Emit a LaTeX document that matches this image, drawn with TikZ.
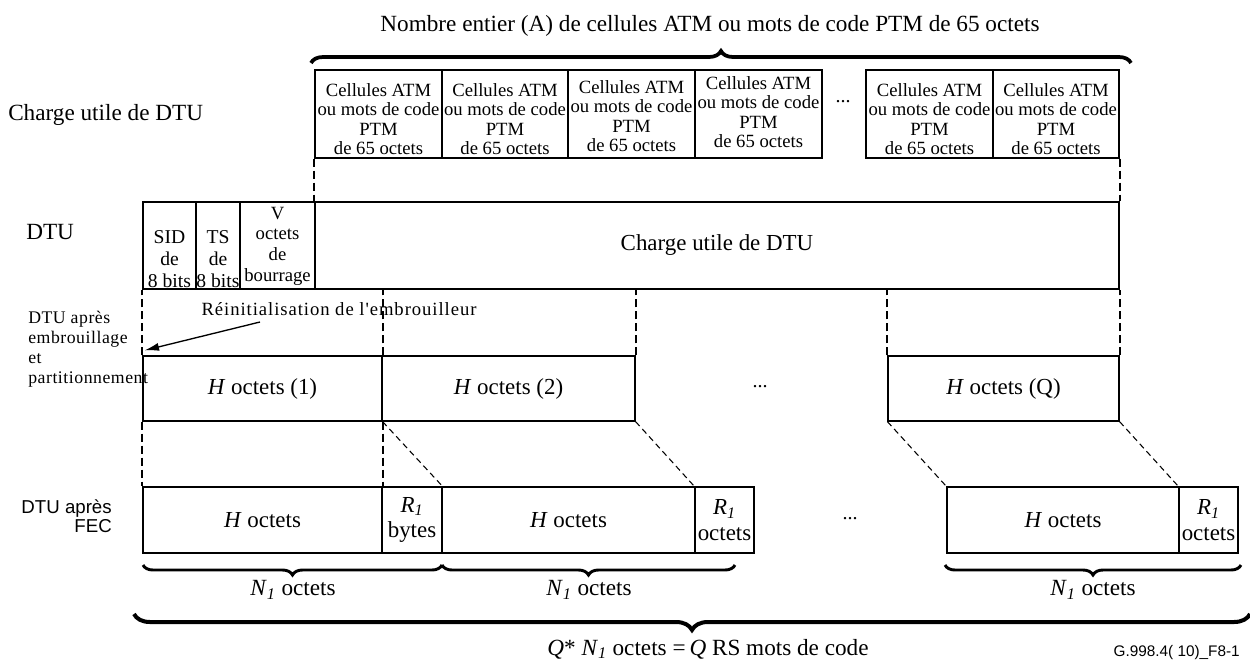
\documentclass[tikz,border=0pt]{standalone}
\usepackage{fontspec}
\setmainfont{Liberation Serif}
\setsansfont{Liberation Sans}
\usetikzlibrary{arrows.meta,decorations.pathreplacing}

% rectangular segment given by its corners (in px-like units)
\newcommand\segbox[6]{%
  \node[segment, minimum width={(#4-#2)*0.75pt}, minimum height={(#5-#3)*0.75pt}]
    (#1) at ({(#2+#4)/2},{(#3+#5)/2}) {#6};}
% two-line label of a redundancy segment
\newcommand\redundtext[1]{\textit{R}\textsubscript{\textit{1}}\\#1}

\begin{document}
\begin{tikzpicture}[x=0.75pt,y=-0.75pt,
  segment/.style={draw, line width=0.9pt, inner sep=0pt, align=center,
    font=\fontsize{17.2}{19}\selectfont},
  big/.style={inner sep=0pt, font=\fontsize{17.4}{20}\selectfont},
  celltxt/.style={inner sep=0pt, align=center, font=\fontsize{14}{14.5}\selectfont},
  hdrtxt/.style={inner sep=0pt, align=center, font=\fontsize{14.7}{16.5}\selectfont},
  padtxt/.style={inner sep=0pt, align=center, font=\fontsize{14}{15.5}\selectfont},
  wide/.style={inner sep=0pt, align=left,
    font=\fontsize{13.3}{15}\selectfont\addfontfeatures{LetterSpace=3}},
  dots/.style={inner sep=0pt, font=\fontsize{15}{15}\selectfont},
  guide/.style={line width=1.4pt, dash pattern=on 6pt off 3pt},
  slant/.style={line width=0.8pt, dash pattern=on 4.5pt off 3pt},
  bracetop/.style={decorate, decoration={brace, amplitude=9pt}, line width=2.8pt},
  bracesmall/.style={decorate, decoration={brace, mirror, amplitude=7.5pt}, line width=2.2pt},
  bracebig/.style={decorate, decoration={brace, mirror, amplitude=12pt}, line width=3pt},
]
\useasboundingbox (0,0) rectangle (1250,662);

% ---- top: payload made of 65-byte cells ----
\node[big] (title) at (710,26) {Nombre entier (A) de cellules ATM ou mots de code PTM de 65 octets};
\coordinate (tbL) at (311,63);
\coordinate (tbR) at (1131,63);
\draw[bracetop] (tbL) -- (tbR);

\node[big, anchor=west] (lblpay) at (8,115) {Charge utile de DTU};

\segbox{c1}{315}{70}{442}{158}{}
\segbox{c2}{442}{70}{568}{158}{}
\segbox{c3}{568}{70}{695}{158}{}
\segbox{c4}{695}{70}{822}{158}{}
\segbox{c5}{866}{70}{993}{158}{}
\segbox{c6}{993}{70}{1119}{158}{}
\node[celltxt] (t1) at (378.5,119) {Cellules ATM\\ou mots de code\\PTM\\de 65 octets};
\node[celltxt] (t2) at (505,119) {Cellules ATM\\ou mots de code\\PTM\\de 65 octets};
\node[celltxt] (t3) at (631.5,116) {Cellules ATM\\ou mots de code\\PTM\\de 65 octets};
\node[celltxt] (t4) at (758.5,112) {Cellules ATM\\ou mots de code\\PTM\\de 65 octets};
\node[celltxt] (t5) at (929.5,119) {Cellules ATM\\ou mots de code\\PTM\\de 65 octets};
\node[celltxt] (t6) at (1056,119) {Cellules ATM\\ou mots de code\\PTM\\de 65 octets};
\node[dots] (d0) at (843,102) {...};

% ---- DTU ----
\node[big, anchor=west] (lbldtu) at (26,232) {DTU};
\segbox{sid}{143}{202}{196}{289}{}
\segbox{ts}{196}{202}{240}{289}{}
\segbox{pad}{240}{202}{315}{289}{}
\segbox{pay}{315}{202}{1119}{289}{Charge utile de DTU}
\node[hdrtxt] (sidt) at (169.5,259) {SID\\de\\8 bits};
\node[hdrtxt] (tst) at (218,259) {TS\\de\\8 bits};
\node[padtxt] (padt) at (277.5,246) {V\\octets\\de\\bourrage};

\draw[guide] (c1.south west) -- (pay.north west);
\draw[guide] (c6.south east) -- (pay.north east);

% ---- after scrambling and partitioning ----
\node[wide, anchor=north west] (lblscr) at (28,311) {DTU après\\embrouillage\\et\\partitionnement};
\node[inner sep=0pt, font=\fontsize{14}{16}\selectfont\addfontfeatures{LetterSpace=5,Ligatures=TeXOff}]
  (reinit) at (339,309) {Réinitialisation de l'embrouilleur};

\segbox{h1}{143}{356}{382}{421}{\textit{H} octets (1)}
\segbox{h2}{382}{356}{635}{421}{\textit{H} octets (2)}
\segbox{hq}{888}{356}{1119}{421}{\textit{H} octets (Q)}
\node[dots] (d1) at (760,387) {...};

\draw[guide] (h1.north west) -- (sid.south west);
\draw[guide] (h1.north east) -- (h1.north east |- pay.south);
\draw[guide] (h2.north east) -- (h2.north east |- pay.south);
\draw[guide] (hq.north west) -- (hq.north west |- pay.south);
\draw[guide] (hq.north east) -- (pay.south east);

\coordinate (arrtail) at (260,322);
\draw[-{Latex[length=11pt,width=6pt]}, line width=1pt] (arrtail) -- ([shift={(2,-5)}]h1.north west);

% ---- after FEC ----
\node[inner sep=0pt, align=right, anchor=east, font=\sffamily\fontsize{14}{14.5}\selectfont]
  (lblfec) at (112,516) {DTU après\\FEC};
\segbox{f1}{143}{487}{382}{553}{\textit{H} octets}
\segbox{r1}{382}{487}{442}{553}{\redundtext{bytes}}
\segbox{f2}{442}{487}{695}{553}{\textit{H} octets}
\segbox{r2}{695}{487}{754}{553}{\redundtext{octets}}
\segbox{fq}{947}{487}{1179}{553}{\textit{H} octets}
\segbox{rq}{1179}{487}{1238}{553}{\redundtext{octets}}
\node[dots] (d2) at (850,519) {...};

\draw[guide] (h1.south west) -- (f1.north west);
\draw[guide] (h1.south east) -- (f1.north east);
\draw[slant] (h1.south east) -- (r1.north east);
\draw[slant] (h2.south east) -- (r2.north west);
\draw[slant] (hq.south west) -- (fq.north west);
\draw[slant] (hq.south east) -- (rq.north west);

% ---- codeword braces ----
\coordinate (b1L) at (143,565);
\coordinate (b1R) at (442,565);
\coordinate (b2L) at (442,565);
\coordinate (b2R) at (735,565);
\coordinate (b3L) at (945,565);
\coordinate (b3R) at (1241,565);
\draw[bracesmall] (b1L) -- (b1R);
\draw[bracesmall] (b2L) -- (b2R);
\draw[bracesmall] (b3L) -- (b3R);
\node[big] (n1) at (293,590) {\textit{N}\textsubscript{\textit{1}} octets};
\node[big] (n2) at (589,590) {\textit{N}\textsubscript{\textit{1}} octets};
\node[big] (n3) at (1093,590) {\textit{N}\textsubscript{\textit{1}} octets};

\coordinate (bbL) at (134,614);
\coordinate (bbR) at (1250,614);
\draw[bracebig] (bbL) -- (bbR);
\node[big] (total) at (708,649) {\textit{Q}* \textit{N}\textsubscript{\textit{1}} octets =\,\textit{Q} RS mots de code};

\node[inner sep=0pt, anchor=east, font=\sffamily\fontsize{11.5}{12}\selectfont] (fig) at (1240,653) {G.998.4( 10)\_F8-1};
\end{tikzpicture}
\end{document}
